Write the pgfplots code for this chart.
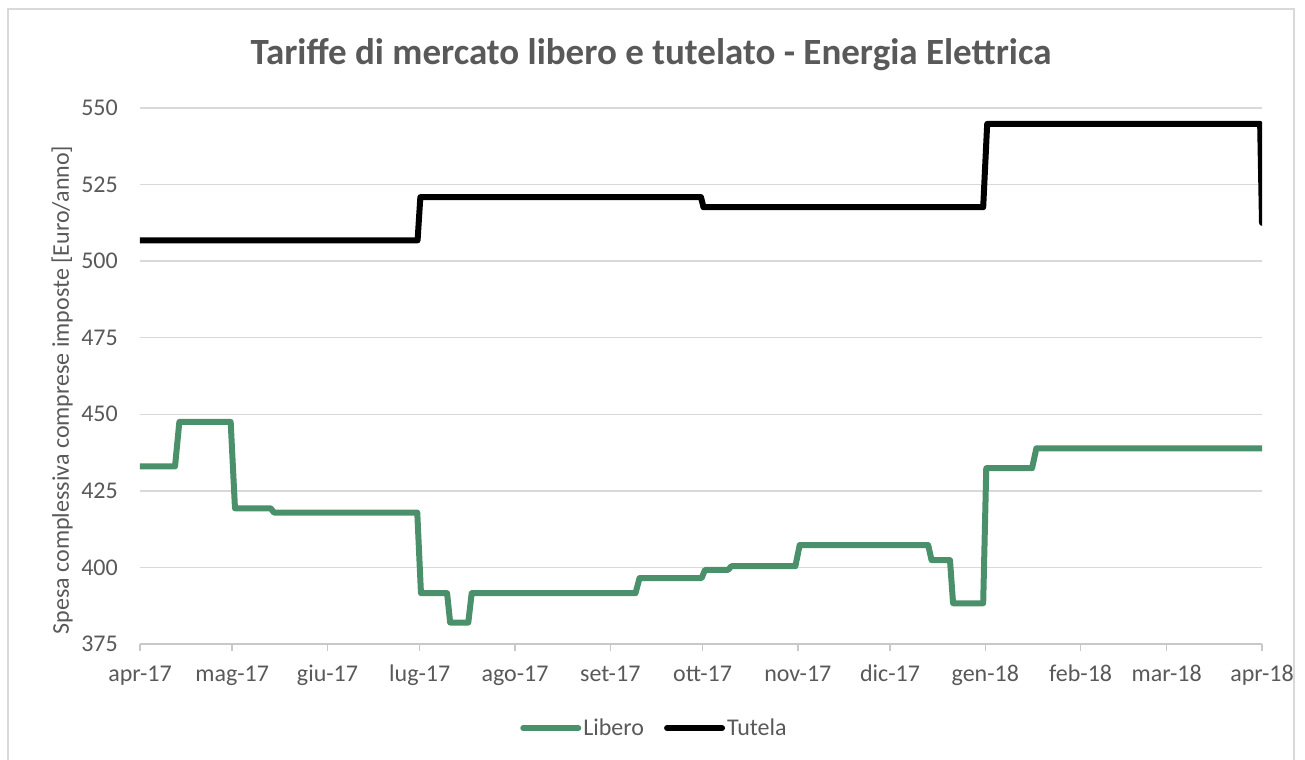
\documentclass[border=0pt]{standalone}
\usepackage{pgfplots}
\pgfplotsset{compat=1.18}
\usepackage{fontspec}
\setmainfont{Carlito}
\definecolor{libero}{HTML}{4A906A}
\definecolor{txtgray}{HTML}{595959}
\definecolor{gridgray}{HTML}{D9D9D9}
\definecolor{axgray}{HTML}{C8C8C8}
\begin{document}
\begin{tikzpicture}
\path[use as bounding box] (-140bp,-116bp) rectangle (1165bp,644bp);
\draw[gridgray, line width=2bp] (-132bp,-130bp) rectangle (1154bp,635bp);
\begin{axis}[
  scale only axis,
  width=1122bp, height=536bp,
  xmin=0, xmax=365, ymin=375, ymax=550,
  axis x line*=bottom, axis y line*=left,
  y axis line style={draw=none},
  x axis line style={draw=axgray, line width=1.5bp, -},
  ytick={375,400,...,550},
  xtick={0,30,61,91,122,153,183,214,244,275,306,334,365},
  xticklabels={apr-17,mag-17,giu-17,lug-17,ago-17,set-17,ott-17,nov-17,dic-17,gen-18,feb-18,mar-18,apr-18},
  ytick style={draw=none},
  xtick style={draw=axgray, line width=1.5bp},
  tick align=outside, major tick length=7bp,
  ymajorgrids, grid style={draw=gridgray, line width=1.5bp},
  /pgf/number format/assume math mode=true,
  tick label style={font=\fontsize{24bp}{28bp}\selectfont, text=txtgray},
  yticklabel style={anchor=east, inner sep=0pt, xshift=-15bp},
  xticklabel style={anchor=base, yshift=-30bp, inner sep=0pt},
  ylabel={Spesa complessiva comprese imposte [Euro/anno]},
  ylabel style={at={(axis description cs:-0.0695,0.474)}, anchor=center, font=\fontsize{24bp}{28bp}\selectfont, text=txtgray},
  legend style={at={(rel axis cs:0.4585,-0.157)}, anchor=center, draw=none, fill=none,
    font=\fontsize{24bp}{28bp}\selectfont, text=txtgray,
    /tikz/every even column/.append style={column sep=18bp},
    nodes={inner sep=2bp}},
  legend columns=2,
  legend image code/.code={\draw[#1, line cap=round] (0bp,0bp) -- (55bp,0bp);},
  line join=round,
]
\addplot[libero, line width=6bp, line join=round] coordinates {
(0,433) (11.4,433) (12.8,447.5) (29.5,447.5) (30.9,419.3) (42.5,419.3) (43.6,417.9)
(90.2,417.9) (91.4,391.6) (99.9,391.6) (100.9,382) (106.8,382) (107.9,391.6)
(161.2,391.6) (162.5,396.5) (182.7,396.5) (183.8,399.2) (191.3,399.2) (192.4,400.4)
(213.2,400.4) (214.6,407.3) (256.4,407.3) (257.5,402.4) (263.5,402.4) (264.5,388.3)
(274.3,388.3) (275.3,432.4) (290.2,432.4) (291.6,438.9) (365,438.9)
};
\addlegendentry{Libero}
\addplot[black, line width=6bp, line join=round, line cap=round] coordinates {
(0,506.8) (90.3,506.8) (91.2,520.9) (182.5,520.9) (183.3,517.6) (274.3,517.6)
(275.6,544.8) (364.4,544.8) (365,512.5)
};
\addlegendentry{Tutela}
\end{axis}
\node[font=\fontsize{37bp}{42bp}\selectfont\bfseries, text=txtgray] at (511bp,589bp) {Tariffe di mercato libero e tutelato - Energia Elettrica};
\end{tikzpicture}
\end{document}
